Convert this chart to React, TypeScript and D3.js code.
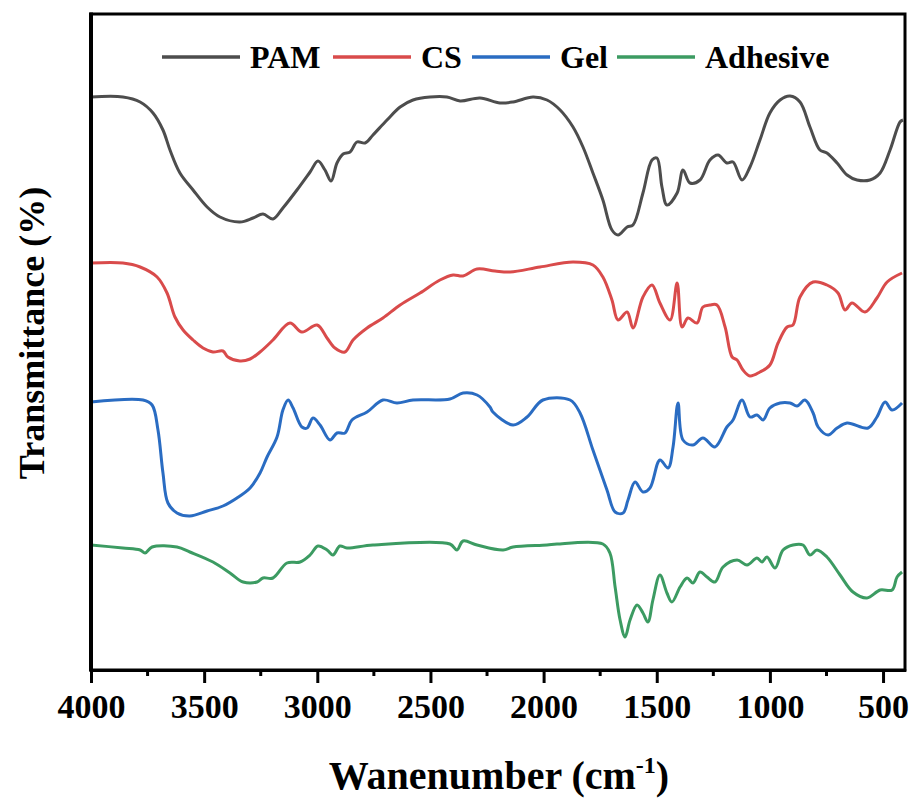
import React, { useRef, useEffect } from 'react';
import * as d3 from 'd3';

// wavenumber (cm-1) and transmittance (a.u., offset per series)
const pamWave = [4000, 3859, 3783, 3726, 3682, 3651, 3607, 3549, 3487, 3430, 3342, 3284, 3240, 3196, 3152, 3090, 3032, 2997, 2966, 2939, 2913, 2886, 2855, 2825, 2789, 2754, 2692, 2634, 2577, 2502, 2427, 2369, 2281, 2193, 2135, 2047, 1985, 1927, 1870, 1826, 1782, 1738, 1698, 1671, 1631, 1605, 1561, 1521, 1499, 1477, 1455, 1410, 1384, 1353, 1309, 1265, 1229, 1190, 1163, 1123, 1088, 1044, 1000, 955, 911, 867, 823, 779, 748, 703, 659, 615, 558, 513, 469, 425, 412];
const pamT = [57.3, 57.3, 56.8, 55.7, 54.0, 52.0, 49.7, 48.0, 46.3, 45.3, 44.8, 45.2, 45.6, 45.1, 46.2, 48.0, 49.8, 50.9, 50.0, 48.9, 50.7, 51.6, 51.8, 52.8, 52.7, 53.5, 55.0, 56.3, 57.0, 57.3, 57.3, 56.9, 57.2, 56.7, 56.8, 57.3, 57.0, 56.0, 54.3, 52.3, 49.7, 47.0, 44.0, 43.5, 44.3, 44.5, 47.7, 51.0, 51.2, 48.3, 46.5, 47.7, 50.0, 48.7, 49.0, 51.0, 51.5, 50.7, 50.8, 49.0, 50.3, 53.0, 55.7, 57.0, 57.4, 56.8, 54.3, 52.0, 51.7, 50.7, 49.5, 49.0, 49.0, 49.7, 52.0, 54.8, 55.0];

const csWave = [4000, 3859, 3783, 3708, 3664, 3629, 3593, 3549, 3505, 3461, 3417, 3395, 3342, 3297, 3253, 3196, 3121, 3068, 3001, 2957, 2922, 2878, 2842, 2780, 2710, 2634, 2546, 2458, 2400, 2356, 2294, 2215, 2148, 2016, 1870, 1782, 1738, 1698, 1671, 1631, 1605, 1561, 1521, 1486, 1441, 1410, 1388, 1362, 1322, 1296, 1265, 1234, 1198, 1167, 1145, 1119, 1088, 1044, 1000, 964, 924, 898, 867, 809, 748, 699, 668, 637, 580, 527, 482, 416];
const csT = [40.7, 40.7, 40.3, 39.3, 37.7, 35.3, 34.0, 33.0, 32.2, 31.8, 31.9, 31.3, 30.9, 31.1, 31.8, 33.0, 34.7, 33.8, 34.5, 33.2, 32.2, 31.8, 33.0, 34.2, 35.2, 36.5, 37.7, 39.0, 39.5, 39.4, 40.1, 39.9, 39.8, 40.3, 40.8, 40.5, 39.3, 37.0, 35.0, 35.8, 34.2, 37.3, 38.5, 36.7, 35.0, 38.7, 34.3, 35.2, 34.7, 36.3, 36.5, 36.5, 34.3, 31.3, 31.0, 30.0, 29.4, 29.8, 30.5, 32.7, 34.3, 34.5, 37.3, 38.8, 38.5, 37.7, 36.0, 36.7, 35.8, 37.2, 38.8, 39.7];

const gelWave = [4000, 3770, 3730, 3704, 3682, 3660, 3620, 3563, 3487, 3417, 3355, 3297, 3253, 3222, 3178, 3152, 3129, 3107, 3068, 3045, 3019, 2988, 2944, 2913, 2878, 2847, 2780, 2710, 2648, 2577, 2414, 2356, 2294, 2237, 2224, 2135, 2073, 2003, 1883, 1839, 1782, 1720, 1684, 1649, 1627, 1596, 1561, 1530, 1486, 1450, 1428, 1406, 1384, 1340, 1296, 1243, 1190, 1163, 1123, 1088, 1057, 1030, 1000, 955, 911, 880, 845, 809, 787, 743, 703, 659, 566, 527, 491, 460, 416];
const gelT = [26.8, 27.0, 26.5, 24.0, 19.7, 16.7, 15.7, 15.4, 15.9, 16.4, 17.2, 18.2, 19.7, 21.3, 23.3, 26.0, 27.0, 26.2, 24.3, 24.2, 25.2, 24.5, 23.0, 23.7, 23.7, 25.0, 25.8, 27.0, 26.7, 27.0, 27.1, 27.7, 27.5, 26.3, 25.8, 24.5, 25.3, 27.0, 27.0, 25.7, 22.0, 18.0, 15.8, 15.7, 17.0, 18.8, 17.8, 18.2, 21.0, 20.2, 22.3, 26.7, 23.0, 22.5, 23.2, 22.3, 24.3, 25.0, 27.0, 25.3, 25.5, 25.0, 26.2, 26.7, 26.7, 26.4, 27.0, 25.7, 24.3, 23.5, 24.2, 24.7, 24.2, 25.3, 26.8, 26.0, 26.7];

const adhWave = [4000, 3859, 3783, 3761, 3730, 3620, 3563, 3461, 3386, 3328, 3266, 3240, 3196, 3134, 3076, 3032, 2997, 2957, 2931, 2900, 2869, 2754, 2414, 2383, 2356, 2294, 2179, 2135, 1985, 1941, 1738, 1707, 1684, 1662, 1640, 1618, 1587, 1561, 1539, 1517, 1486, 1455, 1433, 1397, 1366, 1340, 1309, 1278, 1243, 1207, 1145, 1101, 1057, 1035, 1013, 977, 942, 898, 854, 823, 792, 748, 690, 633, 571, 513, 460, 438, 416];
const adhT = [12.5, 12.2, 12.0, 11.7, 12.3, 12.3, 11.8, 10.8, 9.7, 8.8, 8.8, 9.2, 9.2, 10.7, 10.8, 11.5, 12.4, 12.0, 11.5, 12.4, 12.2, 12.5, 12.6, 12.0, 12.9, 12.5, 12.0, 12.3, 12.5, 12.6, 12.6, 11.7, 8.3, 5.0, 3.3, 5.0, 6.5, 5.7, 4.8, 7.0, 9.5, 7.7, 6.8, 8.3, 9.2, 8.7, 9.8, 9.3, 8.8, 10.3, 11.0, 10.5, 11.2, 10.8, 11.3, 10.2, 12.0, 12.5, 12.5, 11.5, 12.0, 11.3, 9.5, 7.8, 7.2, 8.0, 8.0, 9.3, 9.8];

const seriesNames = ['PAM', 'CS', 'Gel', 'Adhesive'];
const seriesColors = ['#4d4d4d', '#d94b4b', '#2a6cc2', '#3c9b62'];
const xTicks = [4000, 3500, 3000, 2500, 2000, 1500, 1000, 500];
const xMinorTicks = [3750, 3250, 2750, 2250, 1750, 1250, 750];

const App = () => {
    const svgRef = useRef<SVGSVGElement>(null);

    useEffect(() => {
        document.body.style.margin = '0';
        const svg = d3.select(svgRef.current);
        svg.selectAll('*').remove();

        const left = 91, right = 905, top = 14, bottom = 670;
        const font = '"Liberation Serif", "Times New Roman", serif';

        const x = d3.scaleLinear().domain([4000, 400]).range([left, left + 3600 * 0.2263]);
        const y = d3.scaleLinear().domain([0, 65.6]).range([bottom, top]);

        const waves = [pamWave, csWave, gelWave, adhWave];
        const trans = [pamT, csT, gelT, adhT];

        const line = d3.line<[number, number]>()
            .x(d => x(d[0]))
            .y(d => y(d[1]))
            .curve(d3.curveCatmullRom.alpha(0.5));

        const plot = svg.append('g');
        waves.forEach((w, i) => {
            const pts = w.map((v, j) => [v, trans[i][j]] as [number, number]);
            plot.append('path')
                .datum(pts)
                .attr('fill', 'none')
                .attr('stroke', seriesColors[i])
                .attr('stroke-width', 3)
                .attr('stroke-linejoin', 'round')
                .attr('d', line);
        });

        // frame
        svg.append('rect')
            .attr('x', left)
            .attr('y', top)
            .attr('width', right - left)
            .attr('height', bottom - top)
            .attr('fill', 'none')
            .attr('stroke', '#000')
            .attr('stroke-width', 3);
        svg.append('line')
            .attr('x1', left).attr('x2', left)
            .attr('y1', top - 1.5).attr('y2', bottom + 1.5)
            .attr('stroke', '#000').attr('stroke-width', 4);

        // x axis
        const xAxis = svg.append('g')
            .attr('transform', `translate(0,${bottom})`)
            .call(d3.axisBottom(x).tickValues(xTicks).tickSize(13).tickSizeOuter(0).tickFormat(d3.format('d')));
        xAxis.select('.domain').attr('stroke-width', 3);
        xAxis.selectAll('.tick line').attr('stroke-width', 3);
        xAxis.selectAll('.tick text')
            .attr('y', 24)
            .attr('dy', '0.71em')
            .attr('font-family', font)
            .attr('font-weight', 'bold')
            .attr('font-size', 34)
            .attr('fill', '#000');

        svg.append('g')
            .selectAll('line')
            .data(xMinorTicks)
            .enter().append('line')
            .attr('x1', d => x(d)).attr('x2', d => x(d))
            .attr('y1', bottom).attr('y2', bottom + 6)
            .attr('stroke', '#000').attr('stroke-width', 3);

        // axis titles
        const xt = svg.append('text')
            .attr('x', 499)
            .attr('y', 789)
            .attr('text-anchor', 'middle')
            .attr('font-family', font)
            .attr('font-weight', 'bold')
            .attr('font-size', 40)
            .attr('fill', '#000');
        xt.append('tspan').text('Wanenumber (cm');
        xt.append('tspan').attr('font-size', 24).attr('dy', -16).text('-1');
        xt.append('tspan').attr('dy', 16).text(')');

        svg.append('text')
            .attr('transform', 'translate(44,333) rotate(-90)')
            .attr('text-anchor', 'middle')
            .attr('font-family', font)
            .attr('font-weight', 'bold')
            .attr('font-size', 36)
            .attr('fill', '#000')
            .text('Transmittance (%)');

        // legend
        const legendX = [162, 333, 472, 617];
        const legend = svg.append('g');
        seriesNames.forEach((name, i) => {
            legend.append('line')
                .attr('x1', legendX[i]).attr('x2', legendX[i] + 78)
                .attr('y1', 57).attr('y2', 57)
                .attr('stroke', seriesColors[i])
                .attr('stroke-width', 3.5);
            legend.append('text')
                .attr('x', legendX[i] + 88)
                .attr('y', 68)
                .attr('font-family', font)
                .attr('font-weight', 'bold')
                .attr('font-size', 32)
                .attr('fill', '#000')
                .text(name);
        });
    }, []);

    return <svg ref={svgRef} width={914} height={799} style={{ display: 'block', background: '#fff' }} />;
};

export default App;
